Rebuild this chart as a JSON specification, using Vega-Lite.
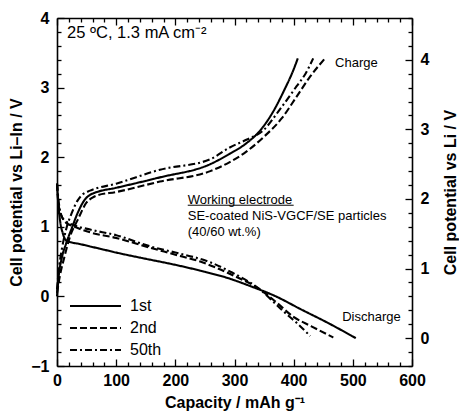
{
  "$schema": "https://vega.github.io/schema/vega-lite/v6.json",
  "width": 355,
  "height": 348,
  "autosize": {"type": "none"},
  "padding": {"left": 57, "top": 18, "right": 47, "bottom": 50},
  "background": "white",
  "config": {
    "view": {"stroke": null},
    "font": "Liberation Sans",
    "axis": {
      "grid": false,
      "domainColor": "black",
      "domainWidth": 1.6,
      "tickColor": "black",
      "tickWidth": 1.3,
      "labelFont": "Liberation Sans",
      "labelFontSize": 16,
      "labelFontWeight": "bold",
      "labelColor": "black",
      "titleFont": "Liberation Sans",
      "titleFontSize": 16,
      "titleFontWeight": "bold",
      "titleColor": "black"
    }
  },
  "datasets": {
    "curves": [
      {"cycle": "1st", "mode": "discharge", "cap": 0, "v": 1.62},
      {"cycle": "1st", "mode": "discharge", "cap": 2, "v": 1.35},
      {"cycle": "1st", "mode": "discharge", "cap": 5, "v": 1.1},
      {"cycle": "1st", "mode": "discharge", "cap": 10, "v": 0.9},
      {"cycle": "1st", "mode": "discharge", "cap": 16, "v": 0.8},
      {"cycle": "1st", "mode": "discharge", "cap": 40, "v": 0.75},
      {"cycle": "1st", "mode": "discharge", "cap": 70, "v": 0.69},
      {"cycle": "1st", "mode": "discharge", "cap": 100, "v": 0.63},
      {"cycle": "1st", "mode": "discharge", "cap": 150, "v": 0.54},
      {"cycle": "1st", "mode": "discharge", "cap": 191, "v": 0.47},
      {"cycle": "1st", "mode": "discharge", "cap": 242, "v": 0.37},
      {"cycle": "1st", "mode": "discharge", "cap": 290, "v": 0.26},
      {"cycle": "1st", "mode": "discharge", "cap": 326, "v": 0.15},
      {"cycle": "1st", "mode": "discharge", "cap": 370, "v": 0.0},
      {"cycle": "1st", "mode": "discharge", "cap": 411, "v": -0.18},
      {"cycle": "1st", "mode": "discharge", "cap": 460, "v": -0.39},
      {"cycle": "1st", "mode": "discharge", "cap": 505, "v": -0.6},
      {"cycle": "2nd", "mode": "discharge", "cap": 0, "v": 1.62},
      {"cycle": "2nd", "mode": "discharge", "cap": 3, "v": 1.3},
      {"cycle": "2nd", "mode": "discharge", "cap": 8, "v": 1.15},
      {"cycle": "2nd", "mode": "discharge", "cap": 15, "v": 1.06},
      {"cycle": "2nd", "mode": "discharge", "cap": 30, "v": 1.0},
      {"cycle": "2nd", "mode": "discharge", "cap": 56, "v": 0.92},
      {"cycle": "2nd", "mode": "discharge", "cap": 100, "v": 0.84},
      {"cycle": "2nd", "mode": "discharge", "cap": 157, "v": 0.7},
      {"cycle": "2nd", "mode": "discharge", "cap": 200, "v": 0.6},
      {"cycle": "2nd", "mode": "discharge", "cap": 242, "v": 0.5},
      {"cycle": "2nd", "mode": "discharge", "cap": 298, "v": 0.3},
      {"cycle": "2nd", "mode": "discharge", "cap": 343, "v": 0.1},
      {"cycle": "2nd", "mode": "discharge", "cap": 370, "v": -0.08},
      {"cycle": "2nd", "mode": "discharge", "cap": 399, "v": -0.29},
      {"cycle": "2nd", "mode": "discharge", "cap": 430, "v": -0.43},
      {"cycle": "2nd", "mode": "discharge", "cap": 467, "v": -0.59},
      {"cycle": "50th", "mode": "discharge", "cap": 0, "v": 1.62},
      {"cycle": "50th", "mode": "discharge", "cap": 3, "v": 1.35},
      {"cycle": "50th", "mode": "discharge", "cap": 8, "v": 1.15},
      {"cycle": "50th", "mode": "discharge", "cap": 15, "v": 1.08},
      {"cycle": "50th", "mode": "discharge", "cap": 30, "v": 1.02},
      {"cycle": "50th", "mode": "discharge", "cap": 56, "v": 0.96},
      {"cycle": "50th", "mode": "discharge", "cap": 100, "v": 0.88},
      {"cycle": "50th", "mode": "discharge", "cap": 157, "v": 0.72},
      {"cycle": "50th", "mode": "discharge", "cap": 200, "v": 0.63},
      {"cycle": "50th", "mode": "discharge", "cap": 259, "v": 0.49},
      {"cycle": "50th", "mode": "discharge", "cap": 292, "v": 0.36},
      {"cycle": "50th", "mode": "discharge", "cap": 343, "v": 0.1},
      {"cycle": "50th", "mode": "discharge", "cap": 382, "v": -0.21},
      {"cycle": "50th", "mode": "discharge", "cap": 405, "v": -0.38},
      {"cycle": "50th", "mode": "discharge", "cap": 428, "v": -0.57},
      {"cycle": "1st", "mode": "charge", "cap": 0, "v": 0.0},
      {"cycle": "1st", "mode": "charge", "cap": 3, "v": 0.3},
      {"cycle": "1st", "mode": "charge", "cap": 8, "v": 0.55},
      {"cycle": "1st", "mode": "charge", "cap": 15, "v": 0.75},
      {"cycle": "1st", "mode": "charge", "cap": 25, "v": 0.98},
      {"cycle": "1st", "mode": "charge", "cap": 35, "v": 1.2},
      {"cycle": "1st", "mode": "charge", "cap": 47, "v": 1.39},
      {"cycle": "1st", "mode": "charge", "cap": 56, "v": 1.46},
      {"cycle": "1st", "mode": "charge", "cap": 64, "v": 1.49},
      {"cycle": "1st", "mode": "charge", "cap": 100, "v": 1.56},
      {"cycle": "1st", "mode": "charge", "cap": 174, "v": 1.71},
      {"cycle": "1st", "mode": "charge", "cap": 259, "v": 1.9},
      {"cycle": "1st", "mode": "charge", "cap": 292, "v": 2.05},
      {"cycle": "1st", "mode": "charge", "cap": 320, "v": 2.2},
      {"cycle": "1st", "mode": "charge", "cap": 345, "v": 2.4},
      {"cycle": "1st", "mode": "charge", "cap": 365, "v": 2.65},
      {"cycle": "1st", "mode": "charge", "cap": 385, "v": 2.98},
      {"cycle": "1st", "mode": "charge", "cap": 398, "v": 3.22},
      {"cycle": "1st", "mode": "charge", "cap": 407, "v": 3.42},
      {"cycle": "2nd", "mode": "charge", "cap": 0, "v": 0.05},
      {"cycle": "2nd", "mode": "charge", "cap": 5, "v": 0.3},
      {"cycle": "2nd", "mode": "charge", "cap": 12, "v": 0.55},
      {"cycle": "2nd", "mode": "charge", "cap": 22, "v": 0.86},
      {"cycle": "2nd", "mode": "charge", "cap": 35, "v": 1.1},
      {"cycle": "2nd", "mode": "charge", "cap": 50, "v": 1.35},
      {"cycle": "2nd", "mode": "charge", "cap": 60, "v": 1.42},
      {"cycle": "2nd", "mode": "charge", "cap": 67, "v": 1.45},
      {"cycle": "2nd", "mode": "charge", "cap": 100, "v": 1.5},
      {"cycle": "2nd", "mode": "charge", "cap": 174, "v": 1.65},
      {"cycle": "2nd", "mode": "charge", "cap": 259, "v": 1.8},
      {"cycle": "2nd", "mode": "charge", "cap": 292, "v": 1.93},
      {"cycle": "2nd", "mode": "charge", "cap": 320, "v": 2.08},
      {"cycle": "2nd", "mode": "charge", "cap": 348, "v": 2.28},
      {"cycle": "2nd", "mode": "charge", "cap": 380, "v": 2.56},
      {"cycle": "2nd", "mode": "charge", "cap": 405, "v": 2.87},
      {"cycle": "2nd", "mode": "charge", "cap": 428, "v": 3.16},
      {"cycle": "2nd", "mode": "charge", "cap": 453, "v": 3.42},
      {"cycle": "50th", "mode": "charge", "cap": 0, "v": 0.1},
      {"cycle": "50th", "mode": "charge", "cap": 4, "v": 0.45},
      {"cycle": "50th", "mode": "charge", "cap": 8, "v": 0.67},
      {"cycle": "50th", "mode": "charge", "cap": 15, "v": 0.95},
      {"cycle": "50th", "mode": "charge", "cap": 25, "v": 1.2},
      {"cycle": "50th", "mode": "charge", "cap": 35, "v": 1.38},
      {"cycle": "50th", "mode": "charge", "cap": 44, "v": 1.47},
      {"cycle": "50th", "mode": "charge", "cap": 56, "v": 1.52},
      {"cycle": "50th", "mode": "charge", "cap": 100, "v": 1.62},
      {"cycle": "50th", "mode": "charge", "cap": 174, "v": 1.82},
      {"cycle": "50th", "mode": "charge", "cap": 259, "v": 1.97},
      {"cycle": "50th", "mode": "charge", "cap": 292, "v": 2.14},
      {"cycle": "50th", "mode": "charge", "cap": 320, "v": 2.25},
      {"cycle": "50th", "mode": "charge", "cap": 348, "v": 2.38},
      {"cycle": "50th", "mode": "charge", "cap": 377, "v": 2.69},
      {"cycle": "50th", "mode": "charge", "cap": 405, "v": 3.02},
      {"cycle": "50th", "mode": "charge", "cap": 420, "v": 3.2},
      {"cycle": "50th", "mode": "charge", "cap": 433, "v": 3.42}
    ],
    "notes": [
      {"label": "Charge", "cap": 470, "v": 3.36},
      {"label": "Discharge", "cap": 482, "v": -0.3},
      {"label": "Working electrode", "cap": 221, "v": 1.39},
      {"label": "SE-coated NiS-VGCF/SE particles", "cap": 221, "v": 1.15},
      {"label": "(40/60 wt.%)", "cap": 221, "v": 0.92}
    ],
    "condition": [
      {"label": "25 ºC, 1.3 mA cm⁻²", "cap": 17, "v": 3.79}
    ],
    "underline": [
      {"cap": 221, "cap2": 400, "v": 1.31}
    ]
  },
  "resolve": {"axis": {"x": "independent", "y": "independent"}},
  "layer": [
    {
      "data": {"name": "curves"},
      "mark": {"type": "line", "color": "black", "strokeWidth": 2.1, "interpolate": "monotone"},
      "encoding": {
        "x": {
          "field": "cap", "type": "quantitative",
          "scale": {"domain": [0, 600], "nice": false, "zero": false},
          "axis": {
            "orient": "bottom",
            "title": "Capacity / mAh g⁻¹",
            "values": [0,20,40,60,80,100,120,140,160,180,200,220,240,260,280,300,320,340,360,380,400,420,440,460,480,500,520,540,560,580,600],
            "labelExpr": "datum.value % 100 === 0 ? format(datum.value, 'd') : ''",
            "tickSize": {"condition": {"test": "datum.value % 100 === 0", "value": -7}, "value": -4},
            "labelPadding": 13,
            "titlePadding": 6,
            "labelFlush": false
          }
        },
        "y": {
          "field": "v", "type": "quantitative",
          "scale": {"domain": [-1, 4], "nice": false, "zero": false},
          "axis": {
            "orient": "left",
            "title": "Cell potential vs Li–In / V",
            "values": [-1,-0.8,-0.6,-0.4,-0.2,0,0.2,0.4,0.6,0.8,1,1.2,1.4,1.6,1.8,2,2.2,2.4,2.6,2.8,3,3.2,3.4,3.6,3.8,4],
            "labelExpr": "abs(datum.value - round(datum.value)) < 0.01 ? (datum.value < 0 ? '−' + format(-datum.value, 'd') : format(datum.value, 'd')) : ''",
            "tickSize": {"condition": {"test": "abs(datum.value - round(datum.value)) < 0.01", "value": -7}, "value": -4},
            "labelPadding": 15,
            "titlePadding": 6,
            "labelFlush": false
          }
        },
        "strokeDash": {
          "field": "cycle", "type": "nominal",
          "scale": {"domain": ["1st", "2nd", "50th"], "range": [[1, 0], [7, 3], [7, 3, 2, 3]]},
          "legend": {
            "title": null,
            "orient": "none",
            "legendX": 12,
            "legendY": 277,
            "symbolType": "stroke",
            "symbolSize": 2600,
            "symbolStrokeWidth": 2,
            "symbolStrokeColor": "black",
            "clipHeight": 22,
            "rowPadding": 0,
            "padding": 0,
            "labelFont": "Liberation Sans",
            "labelFontSize": 16,
            "labelColor": "black",
            "labelOffset": 8
          }
        },
        "detail": {"field": "mode", "type": "nominal"}
      }
    },
    {
      "data": {"name": "notes"},
      "mark": {"type": "text", "align": "left", "baseline": "middle", "font": "Liberation Sans", "fontSize": 13, "color": "black"},
      "encoding": {
        "x": {
          "field": "cap", "type": "quantitative",
          "scale": {"domain": [0, 600], "nice": false, "zero": false},
          "axis": {
            "orient": "top",
            "title": null,
            "labels": false,
            "values": [0,20,40,60,80,100,120,140,160,180,200,220,240,260,280,300,320,340,360,380,400,420,440,460,480,500,520,540,560,580,600],
            "tickSize": {"condition": {"test": "datum.value % 100 === 0", "value": -7}, "value": -4}
          }
        },
        "y": {
          "field": "v", "type": "quantitative",
          "scale": {"domain": [-1, 4], "nice": false, "zero": false},
          "axis": {
            "orient": "right",
            "title": "Cell potential vs Li / V",
            "titleAngle": 270,
            "values": [-1,-0.8,-0.6,-0.4,-0.2,0,0.2,0.4,0.6,0.8,1,1.2,1.4,1.6,1.8,2,2.2,2.4,2.6,2.8,3,3.2,3.4,3.6,3.8,4],
            "labelExpr": "abs(datum.value + 0.6 - round(datum.value + 0.6)) < 0.01 ? format(round(datum.value + 0.6), 'd') : ''",
            "tickSize": {"condition": {"test": "abs(datum.value + 0.6 - round(datum.value + 0.6)) < 0.01", "value": -7}, "value": -4},
            "labelPadding": 15,
            "titlePadding": 30,
            "labelFlush": false
          }
        },
        "text": {"field": "label", "type": "nominal"}
      }
    },
    {
      "data": {"name": "condition"},
      "mark": {"type": "text", "align": "left", "baseline": "middle", "font": "Liberation Sans", "fontSize": 16.5, "color": "black"},
      "encoding": {
        "x": {"field": "cap", "type": "quantitative", "scale": {"domain": [0, 600], "nice": false, "zero": false}, "axis": null},
        "y": {"field": "v", "type": "quantitative", "scale": {"domain": [-1, 4], "nice": false, "zero": false}, "axis": null},
        "text": {"field": "label", "type": "nominal"}
      }
    },
    {
      "data": {"name": "underline"},
      "mark": {"type": "rule", "color": "black", "strokeWidth": 1},
      "encoding": {
        "x": {"field": "cap", "type": "quantitative", "scale": {"domain": [0, 600], "nice": false, "zero": false}, "axis": null},
        "x2": {"field": "cap2"},
        "y": {"field": "v", "type": "quantitative", "scale": {"domain": [-1, 4], "nice": false, "zero": false}, "axis": null}
      }
    }
  ]
}
